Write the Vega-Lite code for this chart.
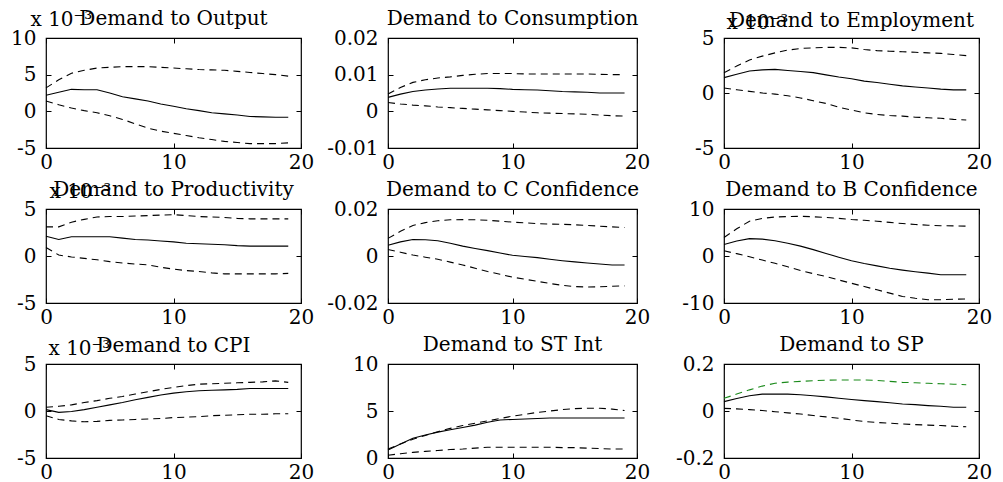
{
"$schema": "https://vega.github.io/schema/vega-lite/v6.json",
"background": "white",
"padding": {"left": 9, "top": 8, "right": 5, "bottom": 2},
"config": {
  "view": {"stroke": "black", "strokeWidth": 1.2},
  "font": "DejaVu Serif",
  "title": {"font": "DejaVu Serif", "fontSize": 20, "fontWeight": "normal", "color": "black", "frame": "group", "baseline": "alphabetic", "offset": 12},
  "axis": {"domain": false, "grid": false, "tickSize": -5, "tickColor": "black", "tickWidth": 1, "labelFont": "DejaVu Serif", "labelFontSize": 20, "labelColor": "black", "labelFlush": false, "labelOverlap": false, "titleFont": "DejaVu Serif", "titleFontSize": 20, "titleFontWeight": "normal", "titleColor": "black", "titleAngle": 0, "titleAlign": "left", "titleBaseline": "alphabetic"},
  "axisX": {"labelPadding": 9},
  "axisY": {"labelPadding": 15}
},
"data": {"values": [
{"p":"Output","t":0,"m":0.0022,"hi":0.0032,"lo":0.0014},
{"p":"Output","t":1,"m":0.0026,"hi":0.0043,"lo":0.0009},
{"p":"Output","t":2,"m":0.0030,"hi":0.0052,"lo":0.00045},
{"p":"Output","t":3,"m":0.00295,"hi":0.0056,"lo":0.0001},
{"p":"Output","t":4,"m":0.00295,"hi":0.0059,"lo":-0.0002},
{"p":"Output","t":5,"m":0.0025,"hi":0.0060,"lo":-0.0006},
{"p":"Output","t":6,"m":0.0020,"hi":0.0061,"lo":-0.0011},
{"p":"Output","t":7,"m":0.0017,"hi":0.0061,"lo":-0.0017},
{"p":"Output","t":8,"m":0.0014,"hi":0.0061,"lo":-0.0023},
{"p":"Output","t":9,"m":0.0010,"hi":0.0060,"lo":-0.0027},
{"p":"Output","t":10,"m":0.0007,"hi":0.0059,"lo":-0.0030},
{"p":"Output","t":11,"m":0.00035,"hi":0.0058,"lo":-0.0033},
{"p":"Output","t":12,"m":0.0001,"hi":0.0057,"lo":-0.0036},
{"p":"Output","t":13,"m":-0.0002,"hi":0.00565,"lo":-0.00385},
{"p":"Output","t":14,"m":-0.00035,"hi":0.0056,"lo":-0.0041},
{"p":"Output","t":15,"m":-0.0005,"hi":0.00545,"lo":-0.00425},
{"p":"Output","t":16,"m":-0.0007,"hi":0.0053,"lo":-0.0044},
{"p":"Output","t":17,"m":-0.00075,"hi":0.00515,"lo":-0.0044},
{"p":"Output","t":18,"m":-0.0008,"hi":0.0050,"lo":-0.0044},
{"p":"Output","t":19,"m":-0.0008,"hi":0.0048,"lo":-0.0043},
{"p":"Consumption","t":0,"m":0.0038,"hi":0.0047,"lo":0.0024},
{"p":"Consumption","t":1,"m":0.0047,"hi":0.0065,"lo":0.0020},
{"p":"Consumption","t":2,"m":0.0054,"hi":0.0079,"lo":0.0017},
{"p":"Consumption","t":3,"m":0.0058,"hi":0.0086,"lo":0.0015},
{"p":"Consumption","t":4,"m":0.0061,"hi":0.0091,"lo":0.0012},
{"p":"Consumption","t":5,"m":0.0063,"hi":0.0094,"lo":0.0010},
{"p":"Consumption","t":6,"m":0.0063,"hi":0.0098,"lo":0.0008},
{"p":"Consumption","t":7,"m":0.0063,"hi":0.0101,"lo":0.0006},
{"p":"Consumption","t":8,"m":0.0063,"hi":0.0103,"lo":0.0004},
{"p":"Consumption","t":9,"m":0.0062,"hi":0.0103,"lo":0.0002},
{"p":"Consumption","t":10,"m":0.0060,"hi":0.0103,"lo":0.0000},
{"p":"Consumption","t":11,"m":0.0059,"hi":0.0102,"lo":-0.0002},
{"p":"Consumption","t":12,"m":0.0058,"hi":0.0102,"lo":-0.0004},
{"p":"Consumption","t":13,"m":0.0056,"hi":0.0102,"lo":-0.0005},
{"p":"Consumption","t":14,"m":0.0054,"hi":0.0102,"lo":-0.0006},
{"p":"Consumption","t":15,"m":0.0053,"hi":0.0102,"lo":-0.0007},
{"p":"Consumption","t":16,"m":0.0052,"hi":0.0102,"lo":-0.0008},
{"p":"Consumption","t":17,"m":0.0050,"hi":0.0101,"lo":-0.0010},
{"p":"Consumption","t":18,"m":0.0050,"hi":0.0100,"lo":-0.0012},
{"p":"Consumption","t":19,"m":0.0050,"hi":0.0100,"lo":-0.0013},
{"p":"Employment","t":0,"m":0.0014,"hi":0.00185,"lo":0.00045},
{"p":"Employment","t":1,"m":0.0017,"hi":0.00245,"lo":0.0003},
{"p":"Employment","t":2,"m":0.0020,"hi":0.0030,"lo":0.00015},
{"p":"Employment","t":3,"m":0.0021,"hi":0.00335,"lo":0.0},
{"p":"Employment","t":4,"m":0.00215,"hi":0.00365,"lo":-0.0001},
{"p":"Employment","t":5,"m":0.00205,"hi":0.0039,"lo":-0.00025},
{"p":"Employment","t":6,"m":0.00195,"hi":0.00405,"lo":-0.00045},
{"p":"Employment","t":7,"m":0.00185,"hi":0.0041,"lo":-0.0007},
{"p":"Employment","t":8,"m":0.00165,"hi":0.00415,"lo":-0.00095},
{"p":"Employment","t":9,"m":0.00145,"hi":0.00415,"lo":-0.0013},
{"p":"Employment","t":10,"m":0.0013,"hi":0.0041,"lo":-0.00155},
{"p":"Employment","t":11,"m":0.00108,"hi":0.00395,"lo":-0.0018},
{"p":"Employment","t":12,"m":0.00095,"hi":0.00385,"lo":-0.00195},
{"p":"Employment","t":13,"m":0.0008,"hi":0.0038,"lo":-0.00205},
{"p":"Employment","t":14,"m":0.00065,"hi":0.00375,"lo":-0.0021},
{"p":"Employment","t":15,"m":0.00055,"hi":0.0037,"lo":-0.0022},
{"p":"Employment","t":16,"m":0.00045,"hi":0.00365,"lo":-0.00225},
{"p":"Employment","t":17,"m":0.00035,"hi":0.0036,"lo":-0.0023},
{"p":"Employment","t":18,"m":0.00028,"hi":0.0035,"lo":-0.0024},
{"p":"Employment","t":19,"m":0.00028,"hi":0.0034,"lo":-0.00245},
{"p":"Productivity","t":0,"m":0.0021,"hi":0.0031,"lo":0.0009},
{"p":"Productivity","t":1,"m":0.00175,"hi":0.0031,"lo":0.0001},
{"p":"Productivity","t":2,"m":0.00205,"hi":0.0036,"lo":-0.0001},
{"p":"Productivity","t":3,"m":0.00205,"hi":0.0039,"lo":-0.00025},
{"p":"Productivity","t":4,"m":0.00205,"hi":0.00415,"lo":-0.0004},
{"p":"Productivity","t":5,"m":0.00205,"hi":0.0042,"lo":-0.0006},
{"p":"Productivity","t":6,"m":0.0019,"hi":0.0042,"lo":-0.00075},
{"p":"Productivity","t":7,"m":0.00175,"hi":0.00425,"lo":-0.00085},
{"p":"Productivity","t":8,"m":0.0017,"hi":0.0043,"lo":-0.00095},
{"p":"Productivity","t":9,"m":0.0016,"hi":0.00435,"lo":-0.0012},
{"p":"Productivity","t":10,"m":0.0015,"hi":0.0044,"lo":-0.0014},
{"p":"Productivity","t":11,"m":0.00135,"hi":0.0043,"lo":-0.00155},
{"p":"Productivity","t":12,"m":0.0013,"hi":0.0042,"lo":-0.00165},
{"p":"Productivity","t":13,"m":0.00125,"hi":0.00415,"lo":-0.0018},
{"p":"Productivity","t":14,"m":0.0012,"hi":0.0041,"lo":-0.0019},
{"p":"Productivity","t":15,"m":0.0011,"hi":0.0040,"lo":-0.0019},
{"p":"Productivity","t":16,"m":0.00105,"hi":0.00395,"lo":-0.0019},
{"p":"Productivity","t":17,"m":0.00105,"hi":0.00395,"lo":-0.0019},
{"p":"Productivity","t":18,"m":0.00105,"hi":0.00395,"lo":-0.0019},
{"p":"Productivity","t":19,"m":0.00105,"hi":0.00395,"lo":-0.00185},
{"p":"CConf","t":0,"m":0.0046,"hi":0.0075,"lo":0.0028},
{"p":"CConf","t":1,"m":0.0060,"hi":0.0105,"lo":0.0016},
{"p":"CConf","t":2,"m":0.0070,"hi":0.0130,"lo":0.0004},
{"p":"CConf","t":3,"m":0.0069,"hi":0.0142,"lo":-0.0005},
{"p":"CConf","t":4,"m":0.0065,"hi":0.0150,"lo":-0.0014},
{"p":"CConf","t":5,"m":0.0054,"hi":0.0154,"lo":-0.0026},
{"p":"CConf","t":6,"m":0.0042,"hi":0.0155,"lo":-0.0038},
{"p":"CConf","t":7,"m":0.0032,"hi":0.0154,"lo":-0.0052},
{"p":"CConf","t":8,"m":0.0023,"hi":0.0152,"lo":-0.0066},
{"p":"CConf","t":9,"m":0.0013,"hi":0.0148,"lo":-0.0078},
{"p":"CConf","t":10,"m":0.0003,"hi":0.0144,"lo":-0.0090},
{"p":"CConf","t":11,"m":-0.0002,"hi":0.0141,"lo":-0.0099},
{"p":"CConf","t":12,"m":-0.0007,"hi":0.0138,"lo":-0.0108},
{"p":"CConf","t":13,"m":-0.0014,"hi":0.0136,"lo":-0.0117},
{"p":"CConf","t":14,"m":-0.0020,"hi":0.0135,"lo":-0.0125},
{"p":"CConf","t":15,"m":-0.0025,"hi":0.0133,"lo":-0.0130},
{"p":"CConf","t":16,"m":-0.0030,"hi":0.0130,"lo":-0.0132},
{"p":"CConf","t":17,"m":-0.0034,"hi":0.0127,"lo":-0.0131},
{"p":"CConf","t":18,"m":-0.0038,"hi":0.0124,"lo":-0.0129},
{"p":"CConf","t":19,"m":-0.0038,"hi":0.0121,"lo":-0.0127},
{"p":"BConf","t":0,"m":2.45,"hi":3.95,"lo":1.1},
{"p":"BConf","t":1,"m":3.2,"hi":5.8,"lo":0.5},
{"p":"BConf","t":2,"m":3.7,"hi":7.4,"lo":-0.15},
{"p":"BConf","t":3,"m":3.6,"hi":8.0,"lo":-0.85},
{"p":"BConf","t":4,"m":3.25,"hi":8.3,"lo":-1.55},
{"p":"BConf","t":5,"m":2.7,"hi":8.4,"lo":-2.3},
{"p":"BConf","t":6,"m":2.1,"hi":8.45,"lo":-3.1},
{"p":"BConf","t":7,"m":1.35,"hi":8.35,"lo":-3.75},
{"p":"BConf","t":8,"m":0.55,"hi":8.2,"lo":-4.35},
{"p":"BConf","t":9,"m":-0.25,"hi":8.0,"lo":-5.1},
{"p":"BConf","t":10,"m":-1.0,"hi":7.75,"lo":-5.8},
{"p":"BConf","t":11,"m":-1.6,"hi":7.6,"lo":-6.5},
{"p":"BConf","t":12,"m":-2.1,"hi":7.4,"lo":-7.2},
{"p":"BConf","t":13,"m":-2.6,"hi":7.15,"lo":-7.9},
{"p":"BConf","t":14,"m":-3.0,"hi":6.9,"lo":-8.6},
{"p":"BConf","t":15,"m":-3.35,"hi":6.7,"lo":-9.0},
{"p":"BConf","t":16,"m":-3.65,"hi":6.55,"lo":-9.3},
{"p":"BConf","t":17,"m":-4.0,"hi":6.45,"lo":-9.3},
{"p":"BConf","t":18,"m":-4.0,"hi":6.4,"lo":-9.2},
{"p":"BConf","t":19,"m":-4.0,"hi":6.35,"lo":-9.15},
{"p":"CPI","t":0,"m":0.00015,"hi":0.0004,"lo":-0.0005},
{"p":"CPI","t":1,"m":-0.00015,"hi":0.0005,"lo":-0.0009},
{"p":"CPI","t":2,"m":-0.00005,"hi":0.00065,"lo":-0.00105},
{"p":"CPI","t":3,"m":0.00015,"hi":0.0009,"lo":-0.00115},
{"p":"CPI","t":4,"m":0.0004,"hi":0.0011,"lo":-0.0011},
{"p":"CPI","t":5,"m":0.00065,"hi":0.00135,"lo":-0.0010},
{"p":"CPI","t":6,"m":0.0009,"hi":0.00155,"lo":-0.00095},
{"p":"CPI","t":7,"m":0.0012,"hi":0.0018,"lo":-0.0009},
{"p":"CPI","t":8,"m":0.00145,"hi":0.00205,"lo":-0.00085},
{"p":"CPI","t":9,"m":0.0017,"hi":0.0023,"lo":-0.0008},
{"p":"CPI","t":10,"m":0.0019,"hi":0.0025,"lo":-0.0007},
{"p":"CPI","t":11,"m":0.00205,"hi":0.0027,"lo":-0.00065},
{"p":"CPI","t":12,"m":0.00215,"hi":0.00285,"lo":-0.0006},
{"p":"CPI","t":13,"m":0.0022,"hi":0.0029,"lo":-0.0005},
{"p":"CPI","t":14,"m":0.00225,"hi":0.00295,"lo":-0.00045},
{"p":"CPI","t":15,"m":0.0023,"hi":0.0030,"lo":-0.0004},
{"p":"CPI","t":16,"m":0.0024,"hi":0.00305,"lo":-0.00035},
{"p":"CPI","t":17,"m":0.0024,"hi":0.0031,"lo":-0.00035},
{"p":"CPI","t":18,"m":0.0024,"hi":0.0032,"lo":-0.0003},
{"p":"CPI","t":19,"m":0.0024,"hi":0.00305,"lo":-0.0003},
{"p":"STInt","t":0,"m":0.85,"hi":0.95,"lo":0.3},
{"p":"STInt","t":1,"m":1.5,"hi":1.5,"lo":0.45},
{"p":"STInt","t":2,"m":2.1,"hi":2.0,"lo":0.6},
{"p":"STInt","t":3,"m":2.45,"hi":2.4,"lo":0.7},
{"p":"STInt","t":4,"m":2.75,"hi":2.8,"lo":0.8},
{"p":"STInt","t":5,"m":3.0,"hi":3.15,"lo":0.9},
{"p":"STInt","t":6,"m":3.25,"hi":3.45,"lo":0.95},
{"p":"STInt","t":7,"m":3.5,"hi":3.7,"lo":1.05},
{"p":"STInt","t":8,"m":3.8,"hi":3.95,"lo":1.15},
{"p":"STInt","t":9,"m":4.05,"hi":4.2,"lo":1.15},
{"p":"STInt","t":10,"m":4.1,"hi":4.45,"lo":1.15},
{"p":"STInt","t":11,"m":4.15,"hi":4.65,"lo":1.15},
{"p":"STInt","t":12,"m":4.2,"hi":4.85,"lo":1.15},
{"p":"STInt","t":13,"m":4.25,"hi":5.0,"lo":1.15},
{"p":"STInt","t":14,"m":4.25,"hi":5.15,"lo":1.1},
{"p":"STInt","t":15,"m":4.25,"hi":5.25,"lo":1.1},
{"p":"STInt","t":16,"m":4.25,"hi":5.3,"lo":1.05},
{"p":"STInt","t":17,"m":4.25,"hi":5.3,"lo":1.0},
{"p":"STInt","t":18,"m":4.25,"hi":5.2,"lo":0.95},
{"p":"STInt","t":19,"m":4.25,"hi":5.05,"lo":0.95},
{"p":"SP","t":0,"m":0.040,"hi":0.054,"lo":0.011},
{"p":"SP","t":1,"m":0.053,"hi":0.072,"lo":0.009},
{"p":"SP","t":2,"m":0.065,"hi":0.090,"lo":0.006},
{"p":"SP","t":3,"m":0.072,"hi":0.106,"lo":0.002},
{"p":"SP","t":4,"m":0.072,"hi":0.118,"lo":-0.003},
{"p":"SP","t":5,"m":0.072,"hi":0.123,"lo":-0.008},
{"p":"SP","t":6,"m":0.069,"hi":0.126,"lo":-0.013},
{"p":"SP","t":7,"m":0.065,"hi":0.129,"lo":-0.019},
{"p":"SP","t":8,"m":0.060,"hi":0.131,"lo":-0.025},
{"p":"SP","t":9,"m":0.054,"hi":0.132,"lo":-0.031},
{"p":"SP","t":10,"m":0.049,"hi":0.132,"lo":-0.038},
{"p":"SP","t":11,"m":0.044,"hi":0.132,"lo":-0.045},
{"p":"SP","t":12,"m":0.040,"hi":0.130,"lo":-0.049},
{"p":"SP","t":13,"m":0.035,"hi":0.126,"lo":-0.052},
{"p":"SP","t":14,"m":0.030,"hi":0.122,"lo":-0.055},
{"p":"SP","t":15,"m":0.027,"hi":0.120,"lo":-0.058},
{"p":"SP","t":16,"m":0.023,"hi":0.118,"lo":-0.060},
{"p":"SP","t":17,"m":0.020,"hi":0.116,"lo":-0.062},
{"p":"SP","t":18,"m":0.016,"hi":0.114,"lo":-0.065},
{"p":"SP","t":19,"m":0.016,"hi":0.112,"lo":-0.067}
]},
"columns": 3,
"spacing": {"row": 61, "column": 87},
"bounds": "flush",
"concat": [
 {"width": 255, "height": 110, "title": {"text": "Demand to Output", "dy": 32},
  "transform": [{"filter": "datum.p === 'Output'"}],
  "resolve": {"axis": {"x": "independent", "y": "independent"}},
  "layer": [
   {"mark": {"type": "line", "color": "black", "strokeWidth": 1.1},
    "encoding": {
     "x": {"field": "t", "type": "quantitative", "scale": {"domain": [0, 20], "nice": false}, "axis": {"orient": "bottom", "values": [0, 10, 20], "labelExpr": "'' + datum.value", "title": null}},
     "y": {"field": "m", "type": "quantitative", "scale": {"domain": [-0.005, 0.01], "nice": false, "zero": false}, "axis": {"orient": "left", "values": [-0.005, 0, 0.005, 0.01], "labelExpr": "'' + round(datum.value*1000)", "title": "x 10⁻³", "titleX": -16, "titleY": -13}}}},
   {"mark": {"type": "line", "color": "black", "strokeWidth": 1.1, "strokeDash": [7, 5]},
    "encoding": {
     "x": {"field": "t", "type": "quantitative", "scale": {"domain": [0, 20], "nice": false}, "axis": {"orient": "top", "values": [0, 10, 20], "labels": false, "title": null}},
     "y": {"field": "hi", "type": "quantitative", "scale": {"domain": [-0.005, 0.01], "nice": false, "zero": false}, "axis": {"orient": "right", "values": [-0.005, 0, 0.005, 0.01], "labels": false, "title": null}}}},
   {"mark": {"type": "line", "color": "black", "strokeWidth": 1.1, "strokeDash": [7, 5]},
    "encoding": {
     "x": {"field": "t", "type": "quantitative", "scale": {"domain": [0, 20], "nice": false}, "axis": null},
     "y": {"field": "lo", "type": "quantitative", "scale": {"domain": [-0.005, 0.01], "nice": false, "zero": false}, "axis": null}}}
  ]},
 {"width": 249, "height": 110, "title": {"text": "Demand to Consumption", "dy": 13},
  "transform": [{"filter": "datum.p === 'Consumption'"}],
  "resolve": {"axis": {"x": "independent", "y": "independent"}},
  "layer": [
   {"mark": {"type": "line", "color": "black", "strokeWidth": 1.1},
    "encoding": {
     "x": {"field": "t", "type": "quantitative", "scale": {"domain": [0, 20], "nice": false}, "axis": {"orient": "bottom", "values": [0, 10, 20], "labelExpr": "'' + datum.value", "title": null}},
     "y": {"field": "m", "type": "quantitative", "scale": {"domain": [-0.01, 0.02], "nice": false, "zero": false}, "axis": {"orient": "left", "values": [-0.01, 0, 0.01, 0.02], "labelExpr": "'' + datum.value", "title": null}}}},
   {"mark": {"type": "line", "color": "black", "strokeWidth": 1.1, "strokeDash": [7, 5]},
    "encoding": {
     "x": {"field": "t", "type": "quantitative", "scale": {"domain": [0, 20], "nice": false}, "axis": {"orient": "top", "values": [0, 10, 20], "labels": false, "title": null}},
     "y": {"field": "hi", "type": "quantitative", "scale": {"domain": [-0.01, 0.02], "nice": false, "zero": false}, "axis": {"orient": "right", "values": [-0.01, 0, 0.01, 0.02], "labels": false, "title": null}}}},
   {"mark": {"type": "line", "color": "black", "strokeWidth": 1.1, "strokeDash": [7, 5]},
    "encoding": {
     "x": {"field": "t", "type": "quantitative", "scale": {"domain": [0, 20], "nice": false}, "axis": null},
     "y": {"field": "lo", "type": "quantitative", "scale": {"domain": [-0.01, 0.02], "nice": false, "zero": false}, "axis": null}}}
  ]},
 {"width": 255, "height": 110, "title": {"text": "Demand to Employment", "dy": 31},
  "transform": [{"filter": "datum.p === 'Employment'"}],
  "resolve": {"axis": {"x": "independent", "y": "independent"}},
  "layer": [
   {"mark": {"type": "line", "color": "black", "strokeWidth": 1.1},
    "encoding": {
     "x": {"field": "t", "type": "quantitative", "scale": {"domain": [0, 20], "nice": false}, "axis": {"orient": "bottom", "values": [0, 10, 20], "labelExpr": "'' + datum.value", "title": null}},
     "y": {"field": "m", "type": "quantitative", "scale": {"domain": [-0.005, 0.005], "nice": false, "zero": false}, "axis": {"orient": "left", "values": [-0.005, 0, 0.005], "labelExpr": "'' + round(datum.value*1000)", "title": "x 10⁻³", "titleX": 2, "titleY": -10}}}},
   {"mark": {"type": "line", "color": "black", "strokeWidth": 1.1, "strokeDash": [7, 5]},
    "encoding": {
     "x": {"field": "t", "type": "quantitative", "scale": {"domain": [0, 20], "nice": false}, "axis": {"orient": "top", "values": [0, 10, 20], "labels": false, "title": null}},
     "y": {"field": "hi", "type": "quantitative", "scale": {"domain": [-0.005, 0.005], "nice": false, "zero": false}, "axis": {"orient": "right", "values": [-0.005, 0, 0.005], "labels": false, "title": null}}}},
   {"mark": {"type": "line", "color": "black", "strokeWidth": 1.1, "strokeDash": [7, 5]},
    "encoding": {
     "x": {"field": "t", "type": "quantitative", "scale": {"domain": [0, 20], "nice": false}, "axis": null},
     "y": {"field": "lo", "type": "quantitative", "scale": {"domain": [-0.005, 0.005], "nice": false, "zero": false}, "axis": null}}}
  ]},
 {"width": 255, "height": 94, "title": {"text": "Demand to Productivity", "dy": 31},
  "transform": [{"filter": "datum.p === 'Productivity'"}],
  "resolve": {"axis": {"x": "independent", "y": "independent"}},
  "layer": [
   {"mark": {"type": "line", "color": "black", "strokeWidth": 1.1},
    "encoding": {
     "x": {"field": "t", "type": "quantitative", "scale": {"domain": [0, 20], "nice": false}, "axis": {"orient": "bottom", "values": [0, 10, 20], "labelExpr": "'' + datum.value", "title": null}},
     "y": {"field": "m", "type": "quantitative", "scale": {"domain": [-0.005, 0.005], "nice": false, "zero": false}, "axis": {"orient": "left", "values": [-0.005, 0, 0.005], "labelExpr": "'' + round(datum.value*1000)", "title": "x 10⁻³", "titleX": 3, "titleY": -12}}}},
   {"mark": {"type": "line", "color": "black", "strokeWidth": 1.1, "strokeDash": [7, 5]},
    "encoding": {
     "x": {"field": "t", "type": "quantitative", "scale": {"domain": [0, 20], "nice": false}, "axis": {"orient": "top", "values": [0, 10, 20], "labels": false, "title": null}},
     "y": {"field": "hi", "type": "quantitative", "scale": {"domain": [-0.005, 0.005], "nice": false, "zero": false}, "axis": {"orient": "right", "values": [-0.005, 0, 0.005], "labels": false, "title": null}}}},
   {"mark": {"type": "line", "color": "black", "strokeWidth": 1.1, "strokeDash": [7, 5]},
    "encoding": {
     "x": {"field": "t", "type": "quantitative", "scale": {"domain": [0, 20], "nice": false}, "axis": null},
     "y": {"field": "lo", "type": "quantitative", "scale": {"domain": [-0.005, 0.005], "nice": false, "zero": false}, "axis": null}}}
  ]},
 {"width": 249, "height": 94, "title": {"text": "Demand to C Confidence", "dy": 13},
  "transform": [{"filter": "datum.p === 'CConf'"}],
  "resolve": {"axis": {"x": "independent", "y": "independent"}},
  "layer": [
   {"mark": {"type": "line", "color": "black", "strokeWidth": 1.1},
    "encoding": {
     "x": {"field": "t", "type": "quantitative", "scale": {"domain": [0, 20], "nice": false}, "axis": {"orient": "bottom", "values": [0, 10, 20], "labelExpr": "'' + datum.value", "title": null}},
     "y": {"field": "m", "type": "quantitative", "scale": {"domain": [-0.02, 0.02], "nice": false, "zero": false}, "axis": {"orient": "left", "values": [-0.02, 0, 0.02], "labelExpr": "'' + datum.value", "title": null}}}},
   {"mark": {"type": "line", "color": "black", "strokeWidth": 1.1, "strokeDash": [7, 5]},
    "encoding": {
     "x": {"field": "t", "type": "quantitative", "scale": {"domain": [0, 20], "nice": false}, "axis": {"orient": "top", "values": [0, 10, 20], "labels": false, "title": null}},
     "y": {"field": "hi", "type": "quantitative", "scale": {"domain": [-0.02, 0.02], "nice": false, "zero": false}, "axis": {"orient": "right", "values": [-0.02, 0, 0.02], "labels": false, "title": null}}}},
   {"mark": {"type": "line", "color": "black", "strokeWidth": 1.1, "strokeDash": [7, 5]},
    "encoding": {
     "x": {"field": "t", "type": "quantitative", "scale": {"domain": [0, 20], "nice": false}, "axis": null},
     "y": {"field": "lo", "type": "quantitative", "scale": {"domain": [-0.02, 0.02], "nice": false, "zero": false}, "axis": null}}}
  ]},
 {"width": 255, "height": 94, "title": {"text": "Demand to B Confidence", "dy": 13},
  "transform": [{"filter": "datum.p === 'BConf'"}],
  "resolve": {"axis": {"x": "independent", "y": "independent"}},
  "layer": [
   {"mark": {"type": "line", "color": "black", "strokeWidth": 1.1},
    "encoding": {
     "x": {"field": "t", "type": "quantitative", "scale": {"domain": [0, 20], "nice": false}, "axis": {"orient": "bottom", "values": [0, 10, 20], "labelExpr": "'' + datum.value", "title": null}},
     "y": {"field": "m", "type": "quantitative", "scale": {"domain": [-10, 10], "nice": false, "zero": false}, "axis": {"orient": "left", "values": [-10, 0, 10], "labelExpr": "'' + datum.value", "title": null}}}},
   {"mark": {"type": "line", "color": "black", "strokeWidth": 1.1, "strokeDash": [7, 5]},
    "encoding": {
     "x": {"field": "t", "type": "quantitative", "scale": {"domain": [0, 20], "nice": false}, "axis": {"orient": "top", "values": [0, 10, 20], "labels": false, "title": null}},
     "y": {"field": "hi", "type": "quantitative", "scale": {"domain": [-10, 10], "nice": false, "zero": false}, "axis": {"orient": "right", "values": [-10, 0, 10], "labels": false, "title": null}}}},
   {"mark": {"type": "line", "color": "black", "strokeWidth": 1.1, "strokeDash": [7, 5]},
    "encoding": {
     "x": {"field": "t", "type": "quantitative", "scale": {"domain": [0, 20], "nice": false}, "axis": null},
     "y": {"field": "lo", "type": "quantitative", "scale": {"domain": [-10, 10], "nice": false, "zero": false}, "axis": null}}}
  ]},
 {"width": 255, "height": 94, "title": {"text": "Demand to CPI", "dy": 30},
  "transform": [{"filter": "datum.p === 'CPI'"}],
  "resolve": {"axis": {"x": "independent", "y": "independent"}},
  "layer": [
   {"mark": {"type": "line", "color": "black", "strokeWidth": 1.1},
    "encoding": {
     "x": {"field": "t", "type": "quantitative", "scale": {"domain": [0, 20], "nice": false}, "axis": {"orient": "bottom", "values": [0, 10, 20], "labelExpr": "'' + datum.value", "title": null}},
     "y": {"field": "m", "type": "quantitative", "scale": {"domain": [-0.005, 0.005], "nice": false, "zero": false}, "axis": {"orient": "left", "values": [-0.005, 0, 0.005], "labelExpr": "'' + round(datum.value*1000)", "title": "x 10⁻³", "titleX": 2, "titleY": -10}}}},
   {"mark": {"type": "line", "color": "black", "strokeWidth": 1.1, "strokeDash": [7, 5]},
    "encoding": {
     "x": {"field": "t", "type": "quantitative", "scale": {"domain": [0, 20], "nice": false}, "axis": {"orient": "top", "values": [0, 10, 20], "labels": false, "title": null}},
     "y": {"field": "hi", "type": "quantitative", "scale": {"domain": [-0.005, 0.005], "nice": false, "zero": false}, "axis": {"orient": "right", "values": [-0.005, 0, 0.005], "labels": false, "title": null}}}},
   {"mark": {"type": "line", "color": "black", "strokeWidth": 1.1, "strokeDash": [7, 5]},
    "encoding": {
     "x": {"field": "t", "type": "quantitative", "scale": {"domain": [0, 20], "nice": false}, "axis": null},
     "y": {"field": "lo", "type": "quantitative", "scale": {"domain": [-0.005, 0.005], "nice": false, "zero": false}, "axis": null}}}
  ]},
 {"width": 249, "height": 94, "title": {"text": "Demand to ST Int", "dy": 13},
  "transform": [{"filter": "datum.p === 'STInt'"}],
  "resolve": {"axis": {"x": "independent", "y": "independent"}},
  "layer": [
   {"mark": {"type": "line", "color": "black", "strokeWidth": 1.1},
    "encoding": {
     "x": {"field": "t", "type": "quantitative", "scale": {"domain": [0, 20], "nice": false}, "axis": {"orient": "bottom", "values": [0, 10, 20], "labelExpr": "'' + datum.value", "title": null}},
     "y": {"field": "m", "type": "quantitative", "scale": {"domain": [0, 10], "nice": false, "zero": false}, "axis": {"orient": "left", "values": [0, 5, 10], "labelExpr": "'' + datum.value", "title": null}}}},
   {"mark": {"type": "line", "color": "black", "strokeWidth": 1.1, "strokeDash": [7, 5]},
    "encoding": {
     "x": {"field": "t", "type": "quantitative", "scale": {"domain": [0, 20], "nice": false}, "axis": {"orient": "top", "values": [0, 10, 20], "labels": false, "title": null}},
     "y": {"field": "hi", "type": "quantitative", "scale": {"domain": [0, 10], "nice": false, "zero": false}, "axis": {"orient": "right", "values": [0, 5, 10], "labels": false, "title": null}}}},
   {"mark": {"type": "line", "color": "black", "strokeWidth": 1.1, "strokeDash": [7, 5]},
    "encoding": {
     "x": {"field": "t", "type": "quantitative", "scale": {"domain": [0, 20], "nice": false}, "axis": null},
     "y": {"field": "lo", "type": "quantitative", "scale": {"domain": [0, 10], "nice": false, "zero": false}, "axis": null}}}
  ]},
 {"width": 255, "height": 94, "title": {"text": "Demand to SP", "dy": 13},
  "transform": [{"filter": "datum.p === 'SP'"}],
  "resolve": {"axis": {"x": "independent", "y": "independent"}},
  "layer": [
   {"mark": {"type": "line", "color": "black", "strokeWidth": 1.1},
    "encoding": {
     "x": {"field": "t", "type": "quantitative", "scale": {"domain": [0, 20], "nice": false}, "axis": {"orient": "bottom", "values": [0, 10, 20], "labelExpr": "'' + datum.value", "title": null}},
     "y": {"field": "m", "type": "quantitative", "scale": {"domain": [-0.2, 0.2], "nice": false, "zero": false}, "axis": {"orient": "left", "values": [-0.2, 0, 0.2], "labelExpr": "'' + datum.value", "title": null}}}},
   {"mark": {"type": "line", "color": "#1a8a1a", "strokeWidth": 1.1, "strokeDash": [7, 5]},
    "encoding": {
     "x": {"field": "t", "type": "quantitative", "scale": {"domain": [0, 20], "nice": false}, "axis": {"orient": "top", "values": [0, 10, 20], "labels": false, "title": null}},
     "y": {"field": "hi", "type": "quantitative", "scale": {"domain": [-0.2, 0.2], "nice": false, "zero": false}, "axis": {"orient": "right", "values": [-0.2, 0, 0.2], "labels": false, "title": null}}}},
   {"mark": {"type": "line", "color": "black", "strokeWidth": 1.1, "strokeDash": [7, 5]},
    "encoding": {
     "x": {"field": "t", "type": "quantitative", "scale": {"domain": [0, 20], "nice": false}, "axis": null},
     "y": {"field": "lo", "type": "quantitative", "scale": {"domain": [-0.2, 0.2], "nice": false, "zero": false}, "axis": null}}}
  ]}
]
}
